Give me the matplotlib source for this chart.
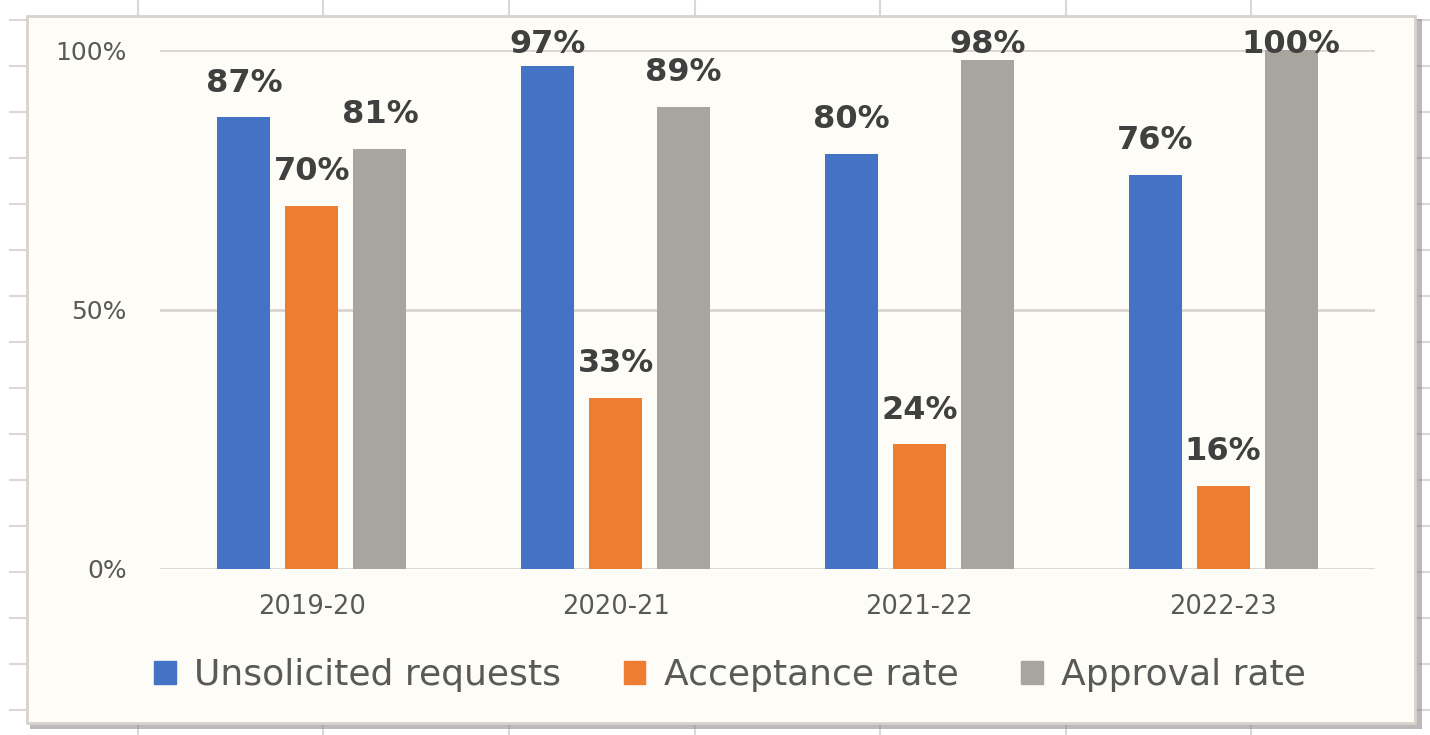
import numpy as np
import matplotlib
matplotlib.use("Agg")
import matplotlib.pyplot as plt
from matplotlib.patches import Rectangle
from matplotlib.lines import Line2D

years = ["2019-20", "2020-21", "2021-22", "2022-23"]
unsolicited = [87, 97, 80, 76]
acceptance = [70, 33, 24, 16]
approval = [81, 89, 98, 100]
series_names = ["Unsolicited requests", "Acceptance rate", "Approval rate"]
colors = ["#4472C4", "#EE7D31", "#A8A49E"]

fig = plt.figure(figsize=(14.3, 7.35), dpi=100)
fig.patch.set_facecolor("white")

W, H = 1430, 735
grid_col = "#DCD7D2"

# spreadsheet cells behind the chart
for gx in [138, 323, 509, 695, 880, 1066, 1251]:
    fig.add_artist(Line2D([gx / W, gx / W], [0, 1], color=grid_col, lw=1.5, zorder=-3))
for gy in range(20, 735, 46):
    fig.add_artist(Line2D([10 / W, 1], [1 - gy / H, 1 - gy / H], color=grid_col, lw=1.5, zorder=-3))

# shadow + chart frame
fig.add_artist(Rectangle((30 / W, 1 - 729 / H), 1392 / W, 710 / H, transform=fig.transFigure,
                         facecolor="#8C8C8C", edgecolor="none", alpha=0.6, zorder=-2))
fig.add_artist(Rectangle((27 / W, 1 - 723 / H), 1388 / W, 707 / H, transform=fig.transFigure,
                         facecolor="#FDFCF6", edgecolor="#D8D2CD", lw=2, zorder=-1))

ax = fig.add_axes([160 / W, 1 - 569 / H, 1215 / W, 519 / H])
ax.set_facecolor("none")

x = np.arange(len(years))
width = 0.174
offset = 0.224
lab_gap = 6.6      # label centre above bar top (data units)
lab_max = 101.0    # labels don't go above this (like excel keeps them in the chart)
all_vals = [unsolicited, acceptance, approval]
for i, vals in enumerate(all_vals):
    bars = ax.bar(x + (i - 1) * offset, vals, width, color=colors[i], label=series_names[i], zorder=3)
    for b, v in zip(bars, vals):
        ax.text(b.get_x() + b.get_width() / 2, min(v + lab_gap, lab_max), f"{v}%",
                ha="center", va="center", fontsize=23, fontweight="bold",
                color="#404040", zorder=4, clip_on=False)

ax.set_xlim(-0.5, 3.5)
ax.set_ylim(0, 100)
ax.set_yticks([0, 50, 100])
ax.set_yticklabels(["0%", "50%", "100%"])
ax.set_xticks(x)
ax.set_xticklabels(years)
ax.yaxis.grid(True, color="#D9D4CF", lw=2, zorder=0)
for s in ax.spines.values():
    s.set_visible(False)
ax.tick_params(axis="both", length=0, labelcolor="#595959")
ax.tick_params(axis="y", pad=24, labelsize=18)
ax.tick_params(axis="x", pad=18, labelsize=18.5)

handles = [Rectangle((0, 0), 1, 1, color=c) for c in colors]
fig.legend(handles, series_names, loc="center", bbox_to_anchor=(730 / W, 1 - 675 / H), ncol=3,
           frameon=False, fontsize=26, labelcolor="#595959", handlelength=0.6, handleheight=0.6,
           handletextpad=0.5, columnspacing=1.75)

fig.savefig("out.png", dpi=100)
